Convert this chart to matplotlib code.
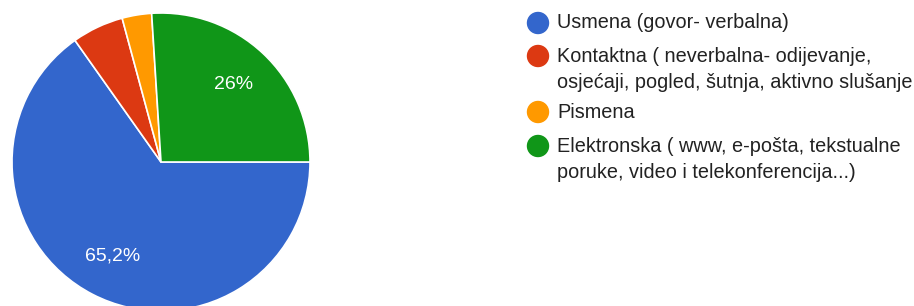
import matplotlib
matplotlib.use("Agg")
import matplotlib.pyplot as plt
from matplotlib.patches import Circle
import numpy as np

labels = [
    "Usmena (govor- verbalna)",
    "Kontaktna ( neverbalna- odijevanje,\nosjećaji, pogled, šutnja, aktivno slušanje",
    "Pismena",
    "Elektronska ( www, e-pošta, tekstualne\nporuke, video i telekonferencija...)",
]
values = [65.2, 5.6, 3.2, 26.0]
pct_text = ["65,2%", "", "", "26%"]
colors = ["#3366cc", "#dc3912", "#ff9900", "#109618"]

plt.rcParams['font.family'] = ['Liberation Sans', 'DejaVu Sans']
W, H = 914, 306
fig = plt.figure(figsize=(W / 100, H / 100), dpi=100)

cx, cy, r = 161, 162, 149
ax = fig.add_axes([(cx - r) / W, (H - cy - r) / H, 2 * r / W, 2 * r / H])
wedges, _ = ax.pie(values, colors=colors, startangle=0, counterclock=False,
                   radius=1, wedgeprops=dict(edgecolor="white", linewidth=1.2))
for w, t in zip(wedges, pct_text):
    if not t:
        continue
    ang = np.deg2rad((w.theta1 + w.theta2) / 2)
    ax.text(0.71 * np.cos(ang), 0.71 * np.sin(ang), t, ha="center", va="center",
            color="white", fontsize=14)
ax.set_xlim(-1, 1)
ax.set_ylim(-1, 1)
ax.set_aspect("equal")
ax.axis("off")

# legend overlay in pixel coordinates
lax = fig.add_axes([0, 0, 1, 1])
lax.set_xlim(0, W)
lax.set_ylim(H, 0)
lax.axis("off")
entry_y = [23, 56, 112, 146]
for lab, col, y in zip(labels, colors, entry_y):
    lax.add_patch(Circle((538, y), 10.5, color=col))
    lines = lab.split("\n")
    for i, ln in enumerate(lines):
        lax.text(557, y + i * 26, ln, ha="left", va="center", fontsize=14.3,
                 color="#222222")

fig.savefig("out.png", dpi=100)
